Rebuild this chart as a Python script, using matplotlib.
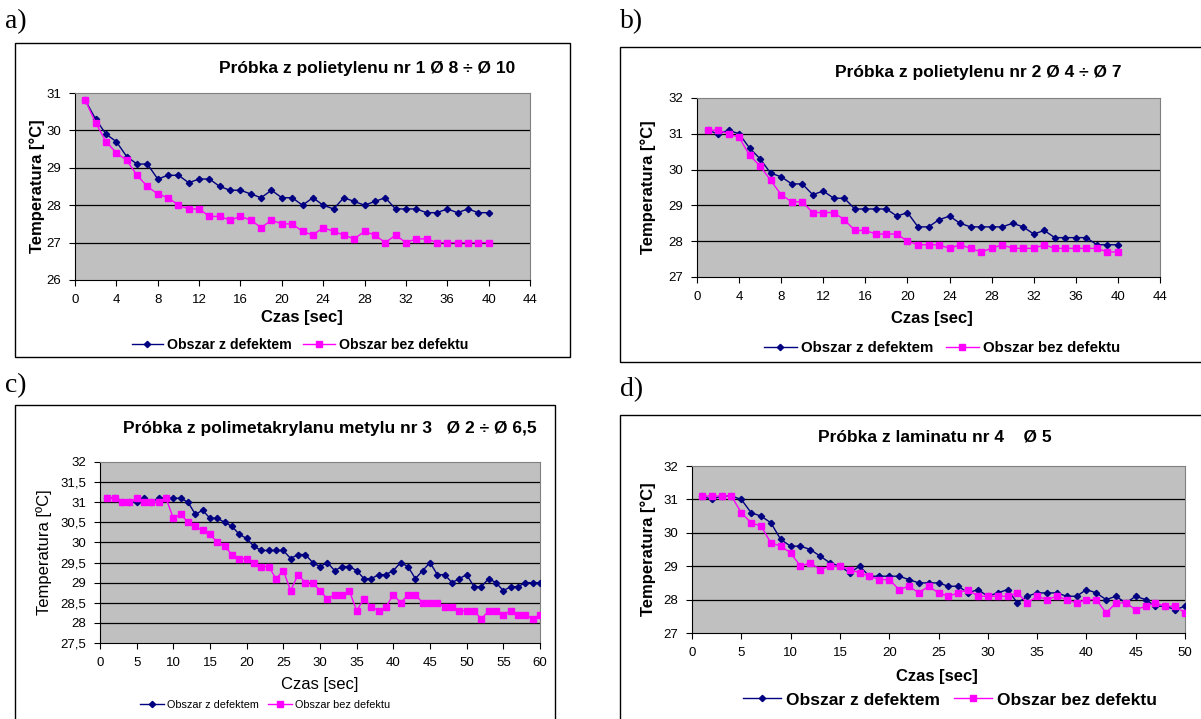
import matplotlib
matplotlib.use("Agg")
import matplotlib.pyplot as plt
from matplotlib.patches import Rectangle

W, H = 1201, 719

t_a = list(range(1, 41))
a_defect = [30.8, 30.3, 29.9, 29.7, 29.3, 29.1, 29.1, 28.7, 28.8, 28.8,
            28.6, 28.7, 28.7, 28.5, 28.4, 28.4, 28.3, 28.2, 28.4, 28.2,
            28.2, 28.0, 28.2, 28.0, 27.9, 28.2, 28.1, 28.0, 28.1, 28.2,
            27.9, 27.9, 27.9, 27.8, 27.8, 27.9, 27.8, 27.9, 27.8, 27.8]
a_clean = [30.8, 30.2, 29.7, 29.4, 29.2, 28.8, 28.5, 28.3, 28.2, 28.0,
           27.9, 27.9, 27.7, 27.7, 27.6, 27.7, 27.6, 27.4, 27.6, 27.5,
           27.5, 27.3, 27.2, 27.4, 27.3, 27.2, 27.1, 27.3, 27.2, 27.0,
           27.2, 27.0, 27.1, 27.1, 27.0, 27.0, 27.0, 27.0, 27.0, 27.0]

t_b = list(range(1, 41))
b_defect = [31.1, 31.0, 31.1, 31.0, 30.6, 30.3, 29.9, 29.8, 29.6, 29.6,
            29.3, 29.4, 29.2, 29.2, 28.9, 28.9, 28.9, 28.9, 28.7, 28.8,
            28.4, 28.4, 28.6, 28.7, 28.5, 28.4, 28.4, 28.4, 28.4, 28.5,
            28.4, 28.2, 28.3, 28.1, 28.1, 28.1, 28.1, 27.9, 27.9, 27.9]
b_clean = [31.1, 31.1, 31.0, 30.9, 30.4, 30.1, 29.7, 29.3, 29.1, 29.1,
           28.8, 28.8, 28.8, 28.6, 28.3, 28.3, 28.2, 28.2, 28.2, 28.0,
           27.9, 27.9, 27.9, 27.8, 27.9, 27.8, 27.7, 27.8, 27.9, 27.8,
           27.8, 27.8, 27.9, 27.8, 27.8, 27.8, 27.8, 27.8, 27.7, 27.7]

t_c = list(range(1, 61))
c_defect = [31.1, 31.1, 31.0, 31.0, 31.0, 31.1, 31.0, 31.1, 31.1, 31.1,
            31.1, 31.0, 30.7, 30.8, 30.6, 30.6, 30.5, 30.4, 30.2, 30.1,
            29.9, 29.8, 29.8, 29.8, 29.8, 29.6, 29.7, 29.7, 29.5, 29.4,
            29.5, 29.3, 29.4, 29.4, 29.3, 29.1, 29.1, 29.2, 29.2, 29.3,
            29.5, 29.4, 29.1, 29.3, 29.5, 29.2, 29.2, 29.0, 29.1, 29.2,
            28.9, 28.9, 29.1, 29.0, 28.8, 28.9, 28.9, 29.0, 29.0, 29.0]
c_clean = [31.1, 31.1, 31.0, 31.0, 31.1, 31.0, 31.0, 31.0, 31.1, 30.6,
           30.7, 30.5, 30.4, 30.3, 30.2, 30.0, 29.9, 29.7, 29.6, 29.6,
           29.5, 29.4, 29.4, 29.1, 29.3, 28.8, 29.2, 29.0, 29.0, 28.8,
           28.6, 28.7, 28.7, 28.8, 28.3, 28.6, 28.4, 28.3, 28.4, 28.7,
           28.5, 28.7, 28.7, 28.5, 28.5, 28.5, 28.4, 28.4, 28.3, 28.3,
           28.3, 28.1, 28.3, 28.3, 28.2, 28.3, 28.2, 28.2, 28.1, 28.2]

t_d = list(range(1, 51))
d_defect = [31.1, 31.0, 31.1, 31.1, 31.0, 30.6, 30.5, 30.3, 29.8, 29.6,
            29.6, 29.5, 29.3, 29.1, 29.0, 28.8, 29.0, 28.7, 28.7, 28.7,
            28.7, 28.6, 28.5, 28.5, 28.5, 28.4, 28.4, 28.2, 28.3, 28.1,
            28.2, 28.3, 27.9, 28.1, 28.2, 28.2, 28.2, 28.1, 28.1, 28.3,
            28.2, 28.0, 28.1, 27.9, 28.1, 28.0, 27.8, 27.8, 27.7, 27.8]
d_clean = [31.1, 31.1, 31.1, 31.1, 30.6, 30.3, 30.2, 29.7, 29.6, 29.4,
           29.0, 29.1, 28.9, 29.0, 29.0, 28.9, 28.8, 28.7, 28.6, 28.6,
           28.3, 28.4, 28.2, 28.4, 28.2, 28.1, 28.2, 28.3, 28.1, 28.1,
           28.1, 28.1, 28.2, 27.9, 28.1, 28.0, 28.1, 28.0, 27.9, 28.0,
           28.0, 27.6, 27.9, 27.9, 27.7, 27.8, 27.9, 27.8, 27.8, 27.6]

LEG_DEFECT = "Obszar z defektem"
LEG_CLEAN = "Obszar bez defektu"
FONT = ["Liberation Sans", "DejaVu Sans"]
SERIF = ["Liberation Serif", "DejaVu Serif"]

panels = [
    dict(tag="a)", tag_xy=(5, 22), box=(15, 43, 570, 357),
         plot=(75, 93, 530, 280), t=t_a, y1=a_defect, y2=a_clean,
         xlim=(0, 44), xticks=range(0, 45, 4), ylim=(26, 31),
         yticks=[26, 27, 28, 29, 30, 31], ytl=None,
         title="Próbka z polietylenu nr 1 Ø 8 ÷ Ø 10", title_xy=(367, 68), title_fs=12.5,
         xl_xy=(302, 317), yl_x=37, ylab="Temperatura [°C]", bold=True,
         leg_xy=(300, 345), leg_fs=10.2, tick_fs=9.5),
    dict(tag="b)", tag_xy=(620, 22), box=(620, 47, 1205, 362),
         plot=(697, 98, 1160, 277), t=t_b, y1=b_defect, y2=b_clean,
         xlim=(0, 44), xticks=range(0, 45, 4), ylim=(27, 32),
         yticks=[27, 28, 29, 30, 31, 32], ytl=None,
         title="Próbka z polietylenu nr 2 Ø 4 ÷ Ø 7", title_xy=(978, 73), title_fs=12.5,
         xl_xy=(932, 318), yl_x=648, ylab="Temperatura [°C]", bold=True,
         leg_xy=(942, 348), leg_fs=10.8, tick_fs=9.5),
    dict(tag="c)", tag_xy=(5, 386), box=(15, 405, 555, 725),
         plot=(100, 462, 540, 643), t=t_c, y1=c_defect, y2=c_clean,
         xlim=(0, 60), xticks=range(0, 61, 5), ylim=(27.5, 32),
         yticks=[27.5, 28, 28.5, 29, 29.5, 30, 30.5, 31, 31.5, 32],
         ytl=["27,5", "28", "28,5", "29", "29,5", "30", "30,5", "31", "31,5", "32"],
         title="Próbka z polimetakrylanu metylu nr 3   Ø 2 ÷ Ø 6,5", title_xy=(330, 428),
         title_fs=12.5,
         xl_xy=(320, 685), yl_x=44, ylab="Temperatura [ºC]", bold=False,
         leg_xy=(265, 705), leg_fs=7.8, tick_fs=9.5),
    dict(tag="d)", tag_xy=(620, 390), box=(620, 415, 1205, 725),
         plot=(692, 466, 1185, 633), t=t_d, y1=d_defect, y2=d_clean,
         xlim=(0, 50), xticks=range(0, 51, 5), ylim=(27, 32),
         yticks=[27, 28, 29, 30, 31, 32], ytl=None,
         title="Próbka z laminatu nr 4    Ø 5", title_xy=(935, 437), title_fs=12.5,
         xl_xy=(937, 676), yl_x=648, ylab="Temperatura [°C]", bold=True,
         leg_xy=(950, 700), leg_fs=12.5, tick_fs=9.5),
]


def fx(x):
    return x / W


def fy(y):
    return 1 - y / H


fig = plt.figure(figsize=(W / 100, H / 100), dpi=100)

for p in panels:
    weight = "bold" if p["bold"] else "normal"
    x0, y0, x1, y1 = p["box"]
    fig.add_artist(Rectangle((fx(x0), fy(y1)), fx(x1 - x0), (y1 - y0) / H,
                             transform=fig.transFigure, fill=False,
                             edgecolor="black", linewidth=1.0))
    fig.text(fx(p["tag_xy"][0]), fy(p["tag_xy"][1]), p["tag"], family=SERIF,
             fontsize=20, va="center", ha="left")

    px0, py0, px1, py1 = p["plot"]
    ax = fig.add_axes([fx(px0), fy(py1), fx(px1 - px0), (py1 - py0) / H])
    ax.set_facecolor("#C0C0C0")
    ax.plot(p["t"], p["y1"], color="#000080", marker="D", markersize=3.2,
            linewidth=1.0, label=LEG_DEFECT, zorder=3)
    ax.plot(p["t"], p["y2"], color="#FF00FF", marker="s", markersize=4,
            linewidth=1.0, label=LEG_CLEAN, zorder=3)
    ax.set_xlim(*p["xlim"])
    ax.set_ylim(*p["ylim"])
    ax.set_xticks(list(p["xticks"]))
    ax.set_yticks(p["yticks"])
    if p["ytl"] is not None:
        ax.set_yticklabels(p["ytl"])
    for yv in p["yticks"][1:-1]:
        ax.axhline(yv, color="black", linewidth=0.9, zorder=1)
    for s in ["top", "right"]:
        ax.spines[s].set_color("#808080")
    for s in ["left", "bottom"]:
        ax.spines[s].set_color("black")
    ax.tick_params(direction="out", length=4, width=0.8, labelsize=p["tick_fs"],
                   pad=6)
    for lab in ax.get_xticklabels() + ax.get_yticklabels():
        lab.set_family(FONT)

    fig.text(fx(p["title_xy"][0]), fy(p["title_xy"][1]), p["title"], family=FONT,
             fontsize=p["title_fs"], fontweight="bold", ha="center", va="center")
    fig.text(fx(p["xl_xy"][0]), fy(p["xl_xy"][1]), "Czas [sec]", family=FONT,
             fontsize=12, fontweight=weight, ha="center", va="center")
    fig.text(fx(p["yl_x"]), fy((py0 + py1) / 2), p["ylab"], family=FONT,
             fontsize=12, fontweight=weight, ha="center", va="center",
             rotation=90)
    ax.legend(loc="center", bbox_to_anchor=(fx(p["leg_xy"][0]), fy(p["leg_xy"][1])),
              bbox_transform=fig.transFigure, ncol=2, frameon=False,
              handlelength=2.2, handletextpad=0.3, columnspacing=0.8,
              prop=dict(family=FONT, size=p["leg_fs"], weight=weight))

fig.savefig("out.png", dpi=100)
